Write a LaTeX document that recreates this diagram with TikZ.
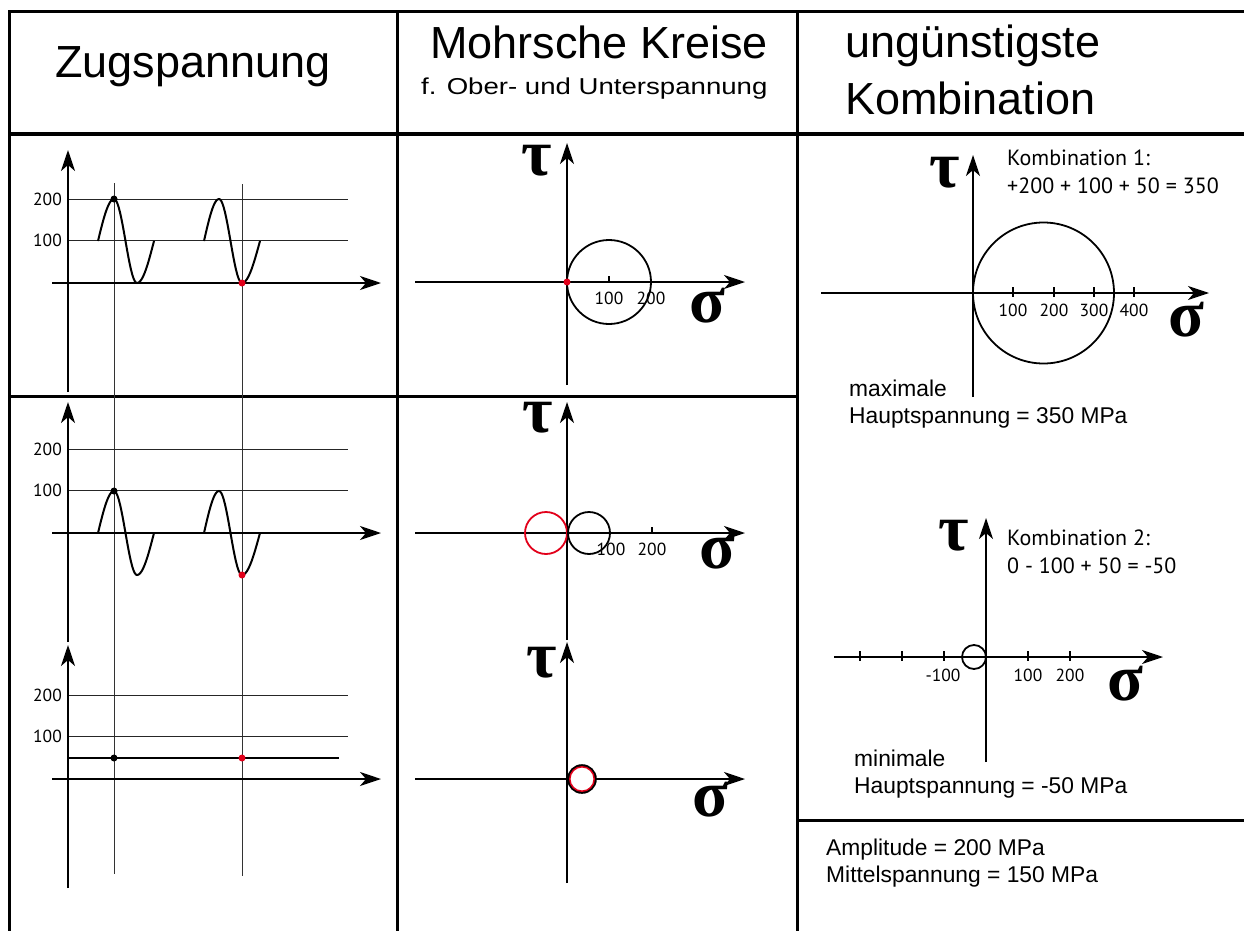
\documentclass[tikz,border=0pt]{standalone}
\usepackage{fontspec}
\setmainfont{Liberation Sans}
\newfontfamily\myr{PT Sans}
\newfontfamily\grk{Liberation Serif}
\usetikzlibrary{arrows.meta}
\definecolor{mred}{RGB}{226,0,26}
\begin{document}
\begin{tikzpicture}[x=1pt,y=-1pt,
  frame/.style={line width=3pt},
  axis/.style={line width=2pt,-{Stealth[length=21pt,width=14pt,inset=6pt]}},
  gridl/.style={line width=0.9pt,black!85},
  vline/.style={line width=0.9pt,black!80},
  curve/.style={line width=2pt},
  tickl/.style={line width=1.5pt},
  circ/.style={line width=1.8pt},
  hd/.style={font=\fontsize{45}{47}\selectfont,inner sep=0pt,anchor=base west},
  subhd/.style={font=\fontsize{23}{25}\selectfont,inner sep=0pt,anchor=base west},
  txt/.style={font=\fontsize{22.8}{24}\selectfont,inner sep=0pt,anchor=base west},
  ktxt/.style={font=\myr\fontsize{22}{24}\selectfont,inner sep=0pt,anchor=base west},
  lbl/.style={font=\myr\fontsize{17.5}{18}\selectfont,inner sep=0pt},
  greek/.style={font=\grk\bfseries\fontsize{66}{66}\selectfont,inner sep=0pt}]
\useasboundingbox (0,0) rectangle (1244,931);
\fill[white] (0,0) rectangle (1244,931);

% frame
\draw[frame] (9,12) -- (1244,12);
\draw[frame] (9,10.5) -- (9,931);
\draw[frame] (9,134) -- (1244,134);
\draw[frame] (397,12) -- (397,931);
\draw[frame] (797,12) -- (797,931);
\draw[frame] (9,396) -- (797,396);
\draw[frame] (797,820) -- (1244,820);

% headers
\node[hd] (h1) at (55,78) {Zugspannung};
\node[hd] (h2) at (430,59) {Mohrsche Kreise};
\node[subhd] (h2s) at (421,95) {\scalebox{1.2}[1]{f. Ober- und Unterspannung}};
\node[hd] (h3a) at (845,58) {ungünstigste};
\node[hd] (h3b) at (845,115) {Kombination};

% column 1: Zugspannung
\draw[vline] (114,183) -- (114,874);
\draw[vline] (242,184) -- (242,876);
\foreach \yo/\yt/\yb [count=\i] in {283/150/392, 533/402/642, 779/645/888} {
  \draw[gridl] (68,\yo-84) -- (348,\yo-84);
  \draw[gridl] (68,\yo-42.5) -- (348,\yo-42.5);
  \node[lbl,anchor=east] (lzw\i) at (62,\yo-84) {200};
  \node[lbl,anchor=east] (leh\i) at (62,\yo-42.5) {100};
  \draw[axis] (52,\yo) -- (381,\yo);
  \draw[axis] (68,\yb) -- (68,\yt);
}
\foreach \ym in {241,533} {
  \foreach \xs/\xp/\xt/\xe in {98/114/137/154, 204/219/242/260} {
    \draw[curve] plot[domain=0:1,samples=12] ({\xs+(\xp-\xs)*\x},{\ym-42*sin(90*\x)})
      -- plot[domain=0:1,samples=20] ({\xp+(\xt-\xp)*\x},{\ym-42*cos(180*\x)})
      -- plot[domain=0:1,samples=12] ({\xt+(\xe-\xt)*\x},{\ym+42*cos(90*\x)});
  }
}
\draw[curve] (68,758) -- (339,758);
\fill (114,199) circle[radius=3.5pt];
\fill[mred] (242,283) circle[radius=3.5pt];
\fill (114,491) circle[radius=3.5pt];
\fill[mred] (242,575) circle[radius=3.5pt];
\fill (114,758) circle[radius=3.5pt];
\fill[mred] (242,758) circle[radius=3.5pt];

% column 2: Mohr circles
\foreach \yo/\yt/\yb in {282/143/385, 533/402/640, 779/642/883} {
  \draw[axis] (415,\yo) -- (745,\yo);
  \draw[axis] (567,\yb) -- (567,\yt);
}
% panel A
\draw[circ] (609,282) circle[radius=42pt];
\draw[tickl] (609,276) -- (609,283);
\fill[mred] (567,282) circle[radius=3.5pt];
\node[lbl] (ma1) at (609,298) {100};
\node[lbl] (ma2) at (651,298) {200};
\node[greek] (tma) at (537,161) {τ};
\node[greek] (sma) at (707,306) {σ};
% panel B
\draw[circ,mred] (546,533) circle[radius=21pt];
\draw[circ] (589,533) circle[radius=21pt];
\draw[tickl] (652,527) -- (652,534);
\node[lbl] (mb1) at (611,549) {100};
\node[lbl] (mb2) at (652,549) {200};
\node[greek] (tmb) at (538,418) {τ};
\node[greek] (smb) at (717,552) {σ};
% panel C
\draw[line width=2.6pt,fill=white] (582,779) circle[radius=13.5pt];
\draw[line width=1.5pt,mred] (582,779) circle[radius=12.2pt];
\node[greek] (tmc) at (542,663) {τ};
\node[greek] (smc) at (710,800) {σ};

% column 3, combination 1
\draw[axis] (821,293) -- (1209,293);
\draw[axis] (973,397) -- (973,155);
\draw[circ] (1043.5,293) circle[radius=70.5pt];
\foreach \tx/\tl in {1013/100, 1054/200, 1094/300, 1134/400} {
  \draw[tickl] (\tx,287) -- (\tx,297);
  \node[lbl] (k1t\tl) at (\tx,310) {\tl};
}
\node[greek] (tk1) at (945,173) {τ};
\node[greek] (sk1) at (1186,320) {σ};
\node[ktxt] (k1a) at (1007,165) {Kombination 1:};
\node[ktxt] (k1b) at (1007,193) {+200 + 100 + 50 = 350};
\node[txt] (k1c) at (849,396) {maximale};
\node[txt] (k1d) at (849,423) {Hauptspannung = 350 MPa};

% combination 2
\draw[axis] (834,657) -- (1163,657);
\draw[axis] (986,762) -- (986,518);
\foreach \tx in {860,902,944,1028,1070} {
  \draw[tickl] (\tx,651) -- (\tx,661);
}
\node[lbl] (k2m) at (943,675) {-100};
\node[lbl] (k2a) at (1028,675) {100};
\node[lbl] (k2b) at (1070,675) {200};
\draw[circ] (974,657) circle[radius=12pt];
\node[greek] (tk2) at (954,536) {τ};
\node[greek] (sk2) at (1125,684) {σ};
\node[ktxt] (k2c) at (1007,545) {Kombination 2:};
\node[ktxt] (k2d) at (1007,573) {0 - 100 + 50 = -50};
\node[txt] (k2e) at (854,766) {minimale};
\node[txt] (k2f) at (854,793) {Hauptspannung = -50 MPa};

% bottom
\node[txt] (am) at (826,855) {Amplitude = 200 MPa};
\node[txt] (mi) at (826,882) {Mittelspannung = 150 MPa};
\end{tikzpicture}
\end{document}
